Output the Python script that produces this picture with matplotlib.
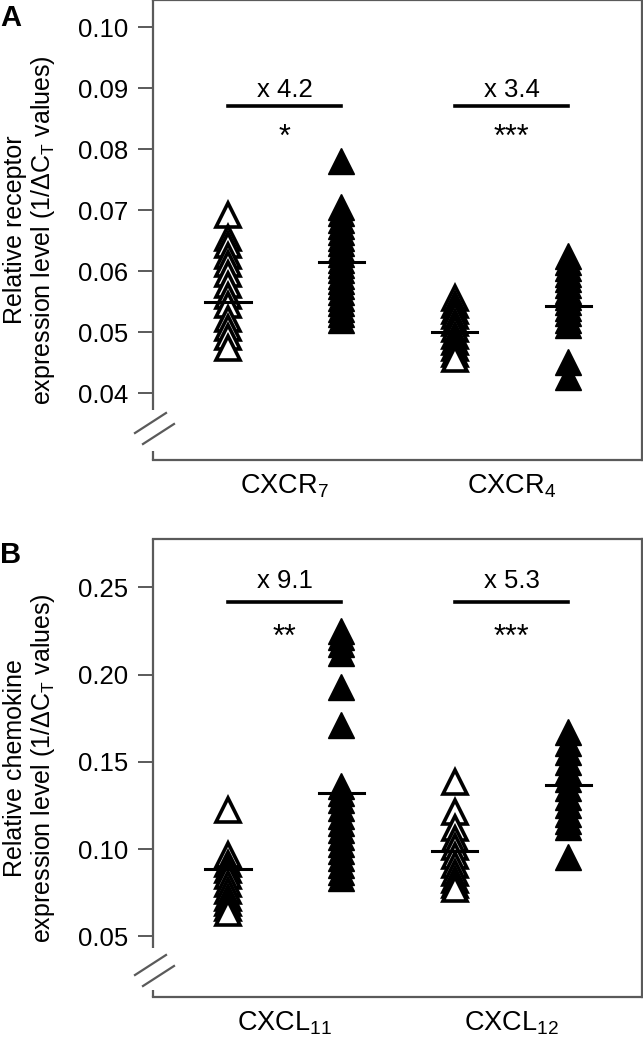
import matplotlib
matplotlib.use('Agg')
import matplotlib.pyplot as plt
from matplotlib.lines import Line2D

plt.rcParams['font.family'] = ['Liberation Sans', 'DejaVu Sans']
plt.rcParams['mathtext.fontset'] = 'custom'
plt.rcParams['mathtext.rm'] = 'Liberation Sans'
plt.rcParams['mathtext.it'] = 'Liberation Sans:italic'

# panel A: receptor levels (open = control, filled = tumour)
cxcr7_open = [0.0693, 0.0655, 0.0643, 0.0625, 0.0612, 0.0595, 0.0577, 0.0560,
              0.0545, 0.0522, 0.0507, 0.0493, 0.0474]
cxcr7_filled = [0.0781, 0.0706, 0.0695, 0.0684, 0.0675, 0.0664, 0.0655, 0.0646,
                0.0636, 0.0628, 0.0619, 0.0610, 0.0602, 0.0593, 0.0584, 0.0576,
                0.0566, 0.0557, 0.0548, 0.0539, 0.0530, 0.0521]
cxcr4_open = [0.0556, 0.0545, 0.0535, 0.0526, 0.0515, 0.0505, 0.0494, 0.0484,
              0.0474, 0.0465, 0.0456]
cxcr4_filled = [0.0625, 0.0615, 0.0605, 0.0596, 0.0587, 0.0578, 0.0568, 0.0558,
                0.0549, 0.0540, 0.0531, 0.0521, 0.0512, 0.0452, 0.0427]
means_a = [0.0549, 0.0616, 0.0501, 0.0543]
labels_a = ['CXCR$_7$', 'CXCR$_4$']
folds_a = ['x 4.2', 'x 3.4']
stars_a = ['*', '***']

# panel B: chemokine levels
cxcl11_open = [0.1225, 0.0966, 0.0915, 0.0880, 0.0845, 0.0800, 0.0760, 0.0720,
               0.0690, 0.0660, 0.0635]
cxcl11_filled = [0.2252, 0.2215, 0.2175, 0.2124, 0.1929, 0.1713, 0.1361, 0.1320,
                 0.1280, 0.1235, 0.1190, 0.1150, 0.1110, 0.1070, 0.1030, 0.0990,
                 0.0950, 0.0910, 0.0870, 0.0832]
cxcl12_open = [0.1384, 0.1214, 0.1119, 0.1060, 0.1010, 0.0960, 0.0910, 0.0865,
               0.0825, 0.0795, 0.0769]
cxcl12_filled = [0.1673, 0.1610, 0.1555, 0.1500, 0.1450, 0.1400, 0.1350, 0.1300,
                 0.1250, 0.1200, 0.1160, 0.1128, 0.0954]
means_b = [0.0886, 0.1323, 0.0989, 0.1367]
labels_b = ['CXCL$_{11}$', 'CXCL$_{12}$']
folds_b = ['x 9.1', 'x 5.3']
stars_b = ['**', '***']

W, H = 643, 1044
fig = plt.figure(figsize=(W / 100, H / 100), dpi=100)
grey = '#5a5a5a'


def panel(rect, groups, means, labels, folds, stars, ticks, ylim,
          bracket_y, fold_y, star_y, ylabel, letter, letter_y, brk):
    ax = fig.add_axes(rect)
    for i, vals in enumerate(groups):
        x = i + 1
        if i % 2 == 0:
            ax.plot([x] * len(vals), vals, '^', ms=17.5, mfc='white', mec='black',
                    mew=2.6, ls='none', zorder=3)
        else:
            ax.plot([x] * len(vals), vals, '^', ms=19, mfc='black', mec='black',
                    mew=1, ls='none', zorder=3)
        ax.plot([x - 0.2, x + 0.2], [means[i], means[i]], color='black',
                lw=2.2, zorder=4)
    for j in range(2):
        a, b = 2 * j + 1, 2 * j + 2
        ax.plot([a, b], [bracket_y, bracket_y], color='black', lw=2.6)
        ax.text((a + b) / 2, fold_y, folds[j], ha='center', va='baseline',
                fontsize=18.5)
        ax.text((a + b) / 2, star_y, stars[j], ha='center', va='top',
                fontsize=22)
    ax.set_xlim(0.34, 4.65)
    ax.set_ylim(*ylim)
    ax.set_yticks(ticks)
    ax.set_yticklabels(['%.2f' % t for t in ticks], fontsize=18.5)
    ax.set_xticks([1.5, 3.5])
    ax.set_xticklabels(labels, fontsize=19.5)
    ax.tick_params(axis='y', length=11, width=1.4, color=grey, pad=7)
    ax.tick_params(axis='x', length=0, pad=9)
    for s in ['top', 'right', 'bottom']:
        ax.spines[s].set_color(grey)
        ax.spines[s].set_linewidth(1.6)
    ax.spines['left'].set_visible(False)
    # left spine with a break near the bottom
    ax.plot([0, 0], [1, brk[0]], transform=ax.transAxes, clip_on=False,
            color=grey, lw=1.6, solid_capstyle='butt')
    ax.plot([0, 0], [brk[1], 0], transform=ax.transAxes, clip_on=False,
            color=grey, lw=1.6, solid_capstyle='butt')
    fig.text(30 / W, rect[1] + rect[3] / 2, ylabel, rotation=90, ha='center',
             va='center', multialignment='center', fontsize=18,
             linespacing=1.1)
    fig.text(0.0, letter_y, letter, fontsize=21, fontweight='bold',
             va='top', ha='left')
    return ax


def break_marks(y0):
    # two short parallel slashes across the left axis
    for dx, dy in [(0, 0), (8, 11)]:
        fig.add_artist(Line2D([(135 + dx) / W, (166 + dx) / W],
                              [1 - (y0 + 20 + dy) / H, 1 - (y0 + dy) / H],
                              color=grey, lw=1.6))


ax_a = panel([153 / W, 1 - 460 / H, 489 / W, 460 / H],
             [cxcr7_open, cxcr7_filled, cxcr4_open, cxcr4_filled],
             means_a, labels_a, folds_a, stars_a,
             [0.04, 0.05, 0.06, 0.07, 0.08, 0.09, 0.10], (0.02907, 0.10448),
             0.0871, 0.0886, 0.0843,
             'Relative receptor\nexpression level (1/$\\Delta$C$_\\mathrm{T}$ values)',
             'A', 1 - 4 / H, (0.109, 0.0196))
break_marks(413)

ax_b = panel([153 / W, 1 - 997 / H, 489 / W, 458 / H],
             [cxcl11_open, cxcl11_filled, cxcl12_open, cxcl12_filled],
             means_b, labels_b, folds_b, stars_b,
             [0.05, 0.10, 0.15, 0.20, 0.25], (0.0152, 0.2777),
             0.2417, 0.2495, 0.2298,
             'Relative chemokine\nexpression level (1/$\\Delta$C$_\\mathrm{T}$ values)',
             'B', 1 - 541 / H, (0.107, 0.0153))
break_marks(955)

fig.savefig('out.png', dpi=100)
